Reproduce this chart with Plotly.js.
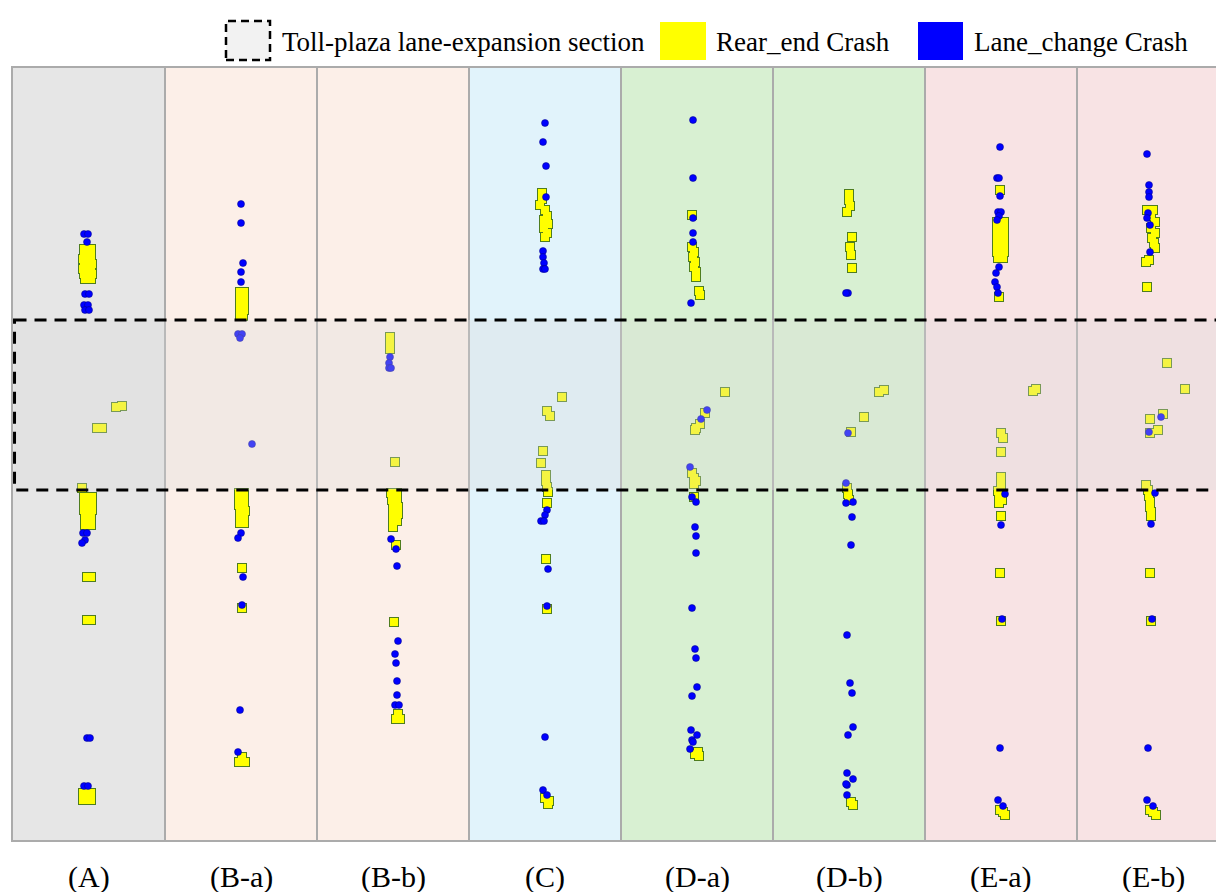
<!DOCTYPE html>
<html>
<head>
<meta charset="utf-8">
<script src="https://cdn.plot.ly/plotly-3.0.1.min.js"></script>
<style>html,body{margin:0;padding:0;background:#fff;}#chart{width:1216px;height:892px;}</style>
</head>
<body>
<div id="chart"></div>
<script>
// Panel (scenario) labels and background colours
const panelLabels = ['(A)', '(B-a)', '(B-b)', '(C)', '(D-a)', '(D-b)', '(E-a)', '(E-b)'];
const panelColors = ['#e6e6e6', '#fcefe8', '#fcefe8', '#e1f3fb', '#d8f0d2', '#d8f0d2', '#f8e3e4', '#f8e3e4'];

// Toll-plaza lane-expansion section (position along road)
const tollSection = [320, 490];

// Crash points per panel: [lateral offset, position along road]
const rear_A = [[-5,249],[2,249],[-5,254],[2,254],[-6,259],[2,259],[-5,264],[3,264],[-6,269],[2,269],[-5,274],[3,274],[-4,279],[2,279],
  [27,407],[33,406],[8,428],[13,428],
  [-7,488],[-5,497],[3,497],[-5,504],[3,504],[-5,510],[3,510],[-4,518],[2,518],[-4,525],[2,525],
  [-2,577],[2,577],[-2,620],[2,620],[-6,793],[2,793],[-6,800],[2,800],[0,797]];
const lane_A = [[-5,234],[-1,234],[-2,242],[-4,294],[0,294],[-5,305],[-1,305],[-4,310],[0,310],
  [-6,533],[-2,533],[-4,540],[-7,543],[-2,738],[1,738],[-5,786],[-1,786]];

const rear_Ba = [[-1,292],[3,292],[-1,298],[3,298],[-1,304],[3,304],[-1,310],[3,310],[-1,316],[2,316],
  [-2,493],[3,493],[-2,499],[3,499],[-2,505],[3,505],[-1,511],[4,511],[-1,517],[3,517],[-1,523],[3,523],
  [1,568],[1,608],[1,757],[-2,762],[4,762]];
const lane_Ba = [[0,204],[0,223],[2,263],[0,272],[0,282],[-3,334],[1,334],[-1,338],[11,444],
  [0,533],[-3,538],[2,577],[1,605],[-1,710],[-3,752]];

const rear_Bb = [[-3,337],[-3,343],[-3,349],[2,462],
  [-2,493],[4,493],[-1,500],[4,500],[0,507],[5,507],[0,514],[5,514],[0,521],[4,521],[0,527],
  [3,545],[1,622],[5,714],[3,719],[7,719]];
const lane_Bb = [[-3,357],[-4,363],[-4,368],[-2,368],[-2,539],[3,549],[4,566],[5,641],[2,654],[3,663],
  [4,681],[4,695],[2,705],[6,705]];

const rear_C = [[-3,193],[-3,199],[-5,205],[0,210],[2,216],[-1,220],[3,224],[-1,228],[2,233],[0,237],
  [17,397],[2,411],[5,416],[-2,451],[-4,463],[1,475],[1,481],[2,487],[3,492],[2,503],
  [1,559],[2,609],[0,798],[4,801],[3,804]];
const lane_C = [[0,123],[-2,142],[1,166],[1,197],[-2,251],[-2,257],[-1,263],[-2,269],[0,269],
  [2,510],[0,515],[-4,521],[-1,521],[3,569],[2,606],[0,737],[-2,790],[2,795]];

const rear_Da = [[-5,215],[-5,247],[-3,252],[-4,257],[-2,262],[-3,267],[-1,272],[-1,277],[2,291],[3,295],
  [28,392],[8,413],[3,424],[-1,428],[-2,430],[-5,473],[-3,478],[-1,481],[-3,484],[-3,497],
  [1,752],[-2,754],[2,756]];
const lane_Da = [[-4,120],[-4,178],[-4,218],[-4,233],[-4,242],[-6,303],[10,410],[4,419],[-7,467],
  [-5,497],[-1,502],[-2,527],[-1,536],[-1,553],[-5,608],[-2,649],[-1,658],[0,687],[-5,696],
  [-6,730],[0,735],[-5,740],[-4,742],[-7,749]];

const rear_Db = [[0,194],[0,200],[1,206],[-2,212],[3,237],[1,247],[2,255],[3,268],
  [30,392],[35,390],[15,417],[2,432],[-2,488],[-1,494],[0,500],[2,802],[4,805]];
const lane_Db = [[-1,293],[-3,293],[-1,433],[-3,483],[-3,503],[4,502],[3,517],[2,545],[-2,635],
  [1,683],[3,693],[4,727],[-1,735],[-2,773],[4,779],[-2,785],[-3,784],[-2,795]];

const rear_Ea = [[-1,190],[-4,222],[3,222],[-4,228],[3,228],[-4,234],[3,234],[-4,240],[3,240],[-4,246],[3,246],
  [-4,252],[3,252],[-3,258],[2,258],[-2,297],
  [32,391],[35,389],[0,433],[2,438],[0,452],[0,477],[0,485],[-3,491],[-2,497],[1,500],[-2,503],
  [0,516],[-1,573],[0,621],[-1,810],[2,812],[4,815]];
const lane_Ea = [[-1,147],[-4,178],[-2,178],[-1,196],[-3,212],[0,212],[-2,216],[-4,220],[-2,267],[-5,273],
  [-6,282],[-4,287],[-3,293],[4,494],[0,525],[1,619],[-1,748],[-3,800],[2,806]];

const rear_Eb = [[-6,210],[0,210],[-2,216],[2,222],[-2,228],[2,233],[-1,238],[1,243],[2,248],[-7,262],[-4,260],[-6,287],
  [14,363],[32,389],[10,414],[-3,419],[5,430],[-3,433],[-7,485],[-5,490],[-4,496],[-3,502],[-3,507],[-2,512],[-2,516],
  [-3,573],[-2,621],[-3,810],[0,812],[3,815]];
const lane_Eb = [[-6,154],[-4,185],[-4,192],[-4,197],[-5,213],[-6,218],[-3,225],[-3,252],[8,417],[-4,432],
  [2,493],[-2,524],[-1,619],[-5,748],[-6,800],[0,806]];

const rearSets = [rear_A, rear_Ba, rear_Bb, rear_C, rear_Da, rear_Db, rear_Ea, rear_Eb];
const laneSets = [lane_A, lane_Ba, lane_Bb, lane_C, lane_Da, lane_Db, lane_Ea, lane_Eb];

const PANEL_W = 152;   // lateral units per panel
const POS_RANGE = [840, 68];
const X_RANGE = [-0.5, -0.5 + 1203 / PANEL_W];

function collect(sets) {
  const xs = [], ys = [];
  sets.forEach((s, i) => s.forEach(p => { xs.push(i + p[0] / PANEL_W); ys.push(p[1]); }));
  return {xs, ys};
}
const R = collect(rearSets), L = collect(laneSets);

const traces = [
  {type: 'scatter', mode: 'markers', x: R.xs, y: R.ys, hoverinfo: 'skip', showlegend: false,
   marker: {symbol: 'square', size: 10, color: '#4f7d1f'}},
  {type: 'scatter', mode: 'markers', x: R.xs, y: R.ys, name: 'Rear_end Crash', showlegend: false,
   marker: {symbol: 'square', size: 8, color: '#ffff00'}},
  {type: 'scatter', mode: 'markers', x: L.xs, y: L.ys, name: 'Lane_change Crash', showlegend: false,
   marker: {symbol: 'circle', size: 7, color: '#0000ff', line: {color: '#000080', width: 0.5}}}
];

const shapes = [];
panelColors.forEach((c, i) => shapes.push({type: 'rect', xref: 'x', yref: 'paper', x0: i - 0.5, x1: i + 0.5, y0: 0, y1: 1,
  fillcolor: c, line: {width: 0}, layer: 'below'}));
for (let i = 0; i < panelLabels.length; i++) {
  shapes.push({type: 'line', xref: 'x', yref: 'paper', x0: i + 0.5, x1: i + 0.5, y0: 0, y1: 1,
    line: {color: '#ababab', width: 2}, layer: 'below'});
}
// Toll plaza section overlay
shapes.push({type: 'rect', xref: 'x', yref: 'y', x0: -0.49, x1: X_RANGE[1] + 0.2, y0: tollSection[0], y1: tollSection[1],
  fillcolor: 'rgba(220,220,220,0.3)', line: {color: '#000', width: 3, dash: '12px,8px'}, layer: 'above'});

// custom legend
function px2paperX(px) { return (px - 13) / 1203; }
function px2paperY(py) { return (840 - py) / 772; }
shapes.push({type: 'rect', xref: 'paper', yref: 'paper', x0: px2paperX(226), x1: px2paperX(270), y0: px2paperY(60), y1: px2paperY(21),
  fillcolor: '#f2f2f2', line: {color: '#000', width: 2.5, dash: '8px,5px'}});
shapes.push({type: 'rect', xref: 'paper', yref: 'paper', x0: px2paperX(660), x1: px2paperX(706), y0: px2paperY(60), y1: px2paperY(22),
  fillcolor: '#ffff00', line: {width: 0}});
shapes.push({type: 'rect', xref: 'paper', yref: 'paper', x0: px2paperX(918), x1: px2paperX(963), y0: px2paperY(60), y1: px2paperY(22),
  fillcolor: '#0000ff', line: {width: 0}});

const serif = 'Liberation Serif, Times New Roman, serif';
const annotations = [
  {xref: 'paper', yref: 'paper', x: px2paperX(280), y: px2paperY(42), xanchor: 'left', yanchor: 'middle', showarrow: false,
   text: 'Toll-plaza lane-expansion section', font: {family: serif, size: 27, color: '#000'}},
  {xref: 'paper', yref: 'paper', x: px2paperX(714), y: px2paperY(42), xanchor: 'left', yanchor: 'middle', showarrow: false,
   text: 'Rear_end Crash', font: {family: serif, size: 27, color: '#000'}},
  {xref: 'paper', yref: 'paper', x: px2paperX(972), y: px2paperY(42), xanchor: 'left', yanchor: 'middle', showarrow: false,
   text: 'Lane_change Crash', font: {family: serif, size: 27, color: '#000'}}
];
panelLabels.forEach((t, i) => annotations.push({xref: 'x', yref: 'paper', x: i, y: px2paperY(877), xanchor: 'center', yanchor: 'middle',
  showarrow: false, text: t, font: {family: serif, size: 30, color: '#000'}}));

const layout = {
  width: 1216, height: 892,
  margin: {l: 13, r: 0, t: 68, b: 52, pad: 0},
  paper_bgcolor: '#ffffff', plot_bgcolor: '#ffffff',
  xaxis: {range: X_RANGE, showgrid: false, zeroline: false, showticklabels: false, ticks: '',
          showline: true, mirror: true, linecolor: '#ababab', linewidth: 2, fixedrange: true},
  yaxis: {range: POS_RANGE, showgrid: false, zeroline: false, showticklabels: false, ticks: '',
          showline: true, mirror: true, linecolor: '#ababab', linewidth: 2, fixedrange: true},
  shapes: shapes,
  annotations: annotations,
  showlegend: false
};

Plotly.newPlot('chart', traces, layout, {displayModeBar: false, staticPlot: true});
</script>
</body>
</html>
